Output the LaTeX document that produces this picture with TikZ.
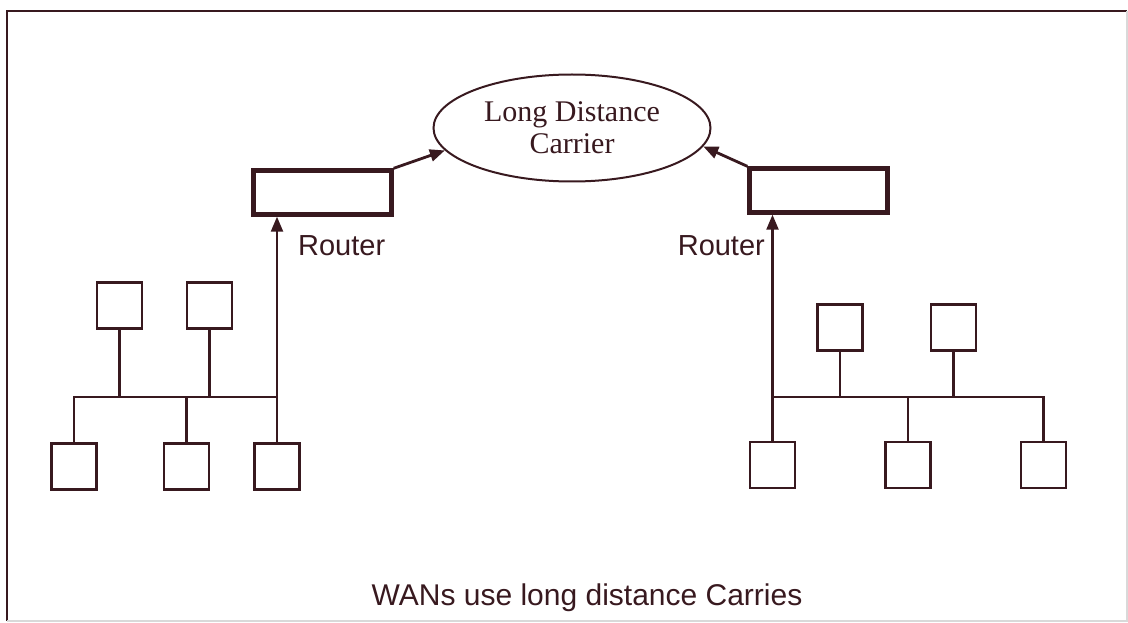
\documentclass[tikz,border=0pt]{standalone}
\usepackage{fontspec}
\setmainfont{Liberation Serif}
\newfontfamily\labelfont{Liberation Sans}
\usetikzlibrary{shapes.geometric,arrows.meta}
\definecolor{ink}{rgb}{0.22,0.10,0.12}
\begin{document}
\begin{tikzpicture}[
        x=1pt, y=-1pt,
        color=ink,
        line width=2.3pt,
        host/.style={
            draw,
            line width=2.3pt,
            minimum width=45pt,
            minimum height=46pt,
            inner sep=0pt
        },
        router/.style={
            draw,
            line width=4.4pt,
            minimum width=138pt,
            minimum height=44pt,
            inner sep=0pt
        },
        carrier/.style={
            draw,
            ellipse,
            line width=2pt,
            minimum width=277pt,
            minimum height=107pt,
            align=center,
            font=\fontsize{30}{32}\selectfont
        },
        tag/.style={font=\labelfont\fontsize{29}{32}\selectfont, inner sep=0pt},
        link/.style={-{Triangle[length=15pt,width=12pt]}}
    ]

    \useasboundingbox (0,0) rectangle (1128,623);
    \draw (1127,11) -- (7,11) -- (7,621);
    \draw[gray!30, line width=1.2pt] (1127,11) -- (1127,621) -- (7,621);

    \node[carrier] (wan) at (572,128) {Long Distance\\Carrier};

    \node[router] (rtA) at (322.5,192.5) {};
    \node[router] (rtB) at (818.5,190.5) {};

    \node[tag, anchor=base west] (tagA) at (297,255) {Router};
    \node[tag, anchor=base east] (tagB) at (766,255) {Router};

    % left LAN
    \node[host] (a1) at (119.5,305.5) {};
    \node[host] (a2) at (209.5,305.5) {};
    \node[host] (a3) at (74,466.5) {};
    \node[host] (a4) at (186.5,466.5) {};
    \node[host] (a5) at (277,466.5) {};
    \coordinate (busA) at (73,397);

    % right LAN
    \node[host] (b1) at (840,327.5) {};
    \node[host] (b2) at (953.5,327.5) {};
    \node[host] (b3) at (772.5,465) {};
    \node[host] (b4) at (908,465) {};
    \node[host] (b5) at (1043.5,465) {};
    \coordinate (busB) at (1043,397);

    \draw (a3.north) -- (a3.north |- busA) -- (a5.north |- busA);
    \draw (a1.south) -- (a1.south |- busA);
    \draw (a2.south) -- (a2.south |- busA);
    \draw (a4.north) -- (a4.north |- busA);
    \draw[link] (a5.north) -- (a5.north |- rtA.south);

    \draw (b5.north) -- (b5.north |- busB) -- (b3.north |- busB);
    \draw (b1.south) -- (b1.south |- busB);
    \draw (b2.south) -- (b2.south |- busB);
    \draw (b4.north) -- (b4.north |- busB);
    \draw[link] (b3.north) -- (b3.north |- rtB.south);

    \draw[link, line width=2.8pt] (rtA.north east) -- (wan.190);
    \draw[link, line width=2.8pt] (rtB.north west) -- (wan.352);

    \node[tag, anchor=base, font=\labelfont\fontsize{30}{32}\selectfont] (note) at (587,605)
        {WANs use long distance Carries};

    \end{tikzpicture}
\end{document}
